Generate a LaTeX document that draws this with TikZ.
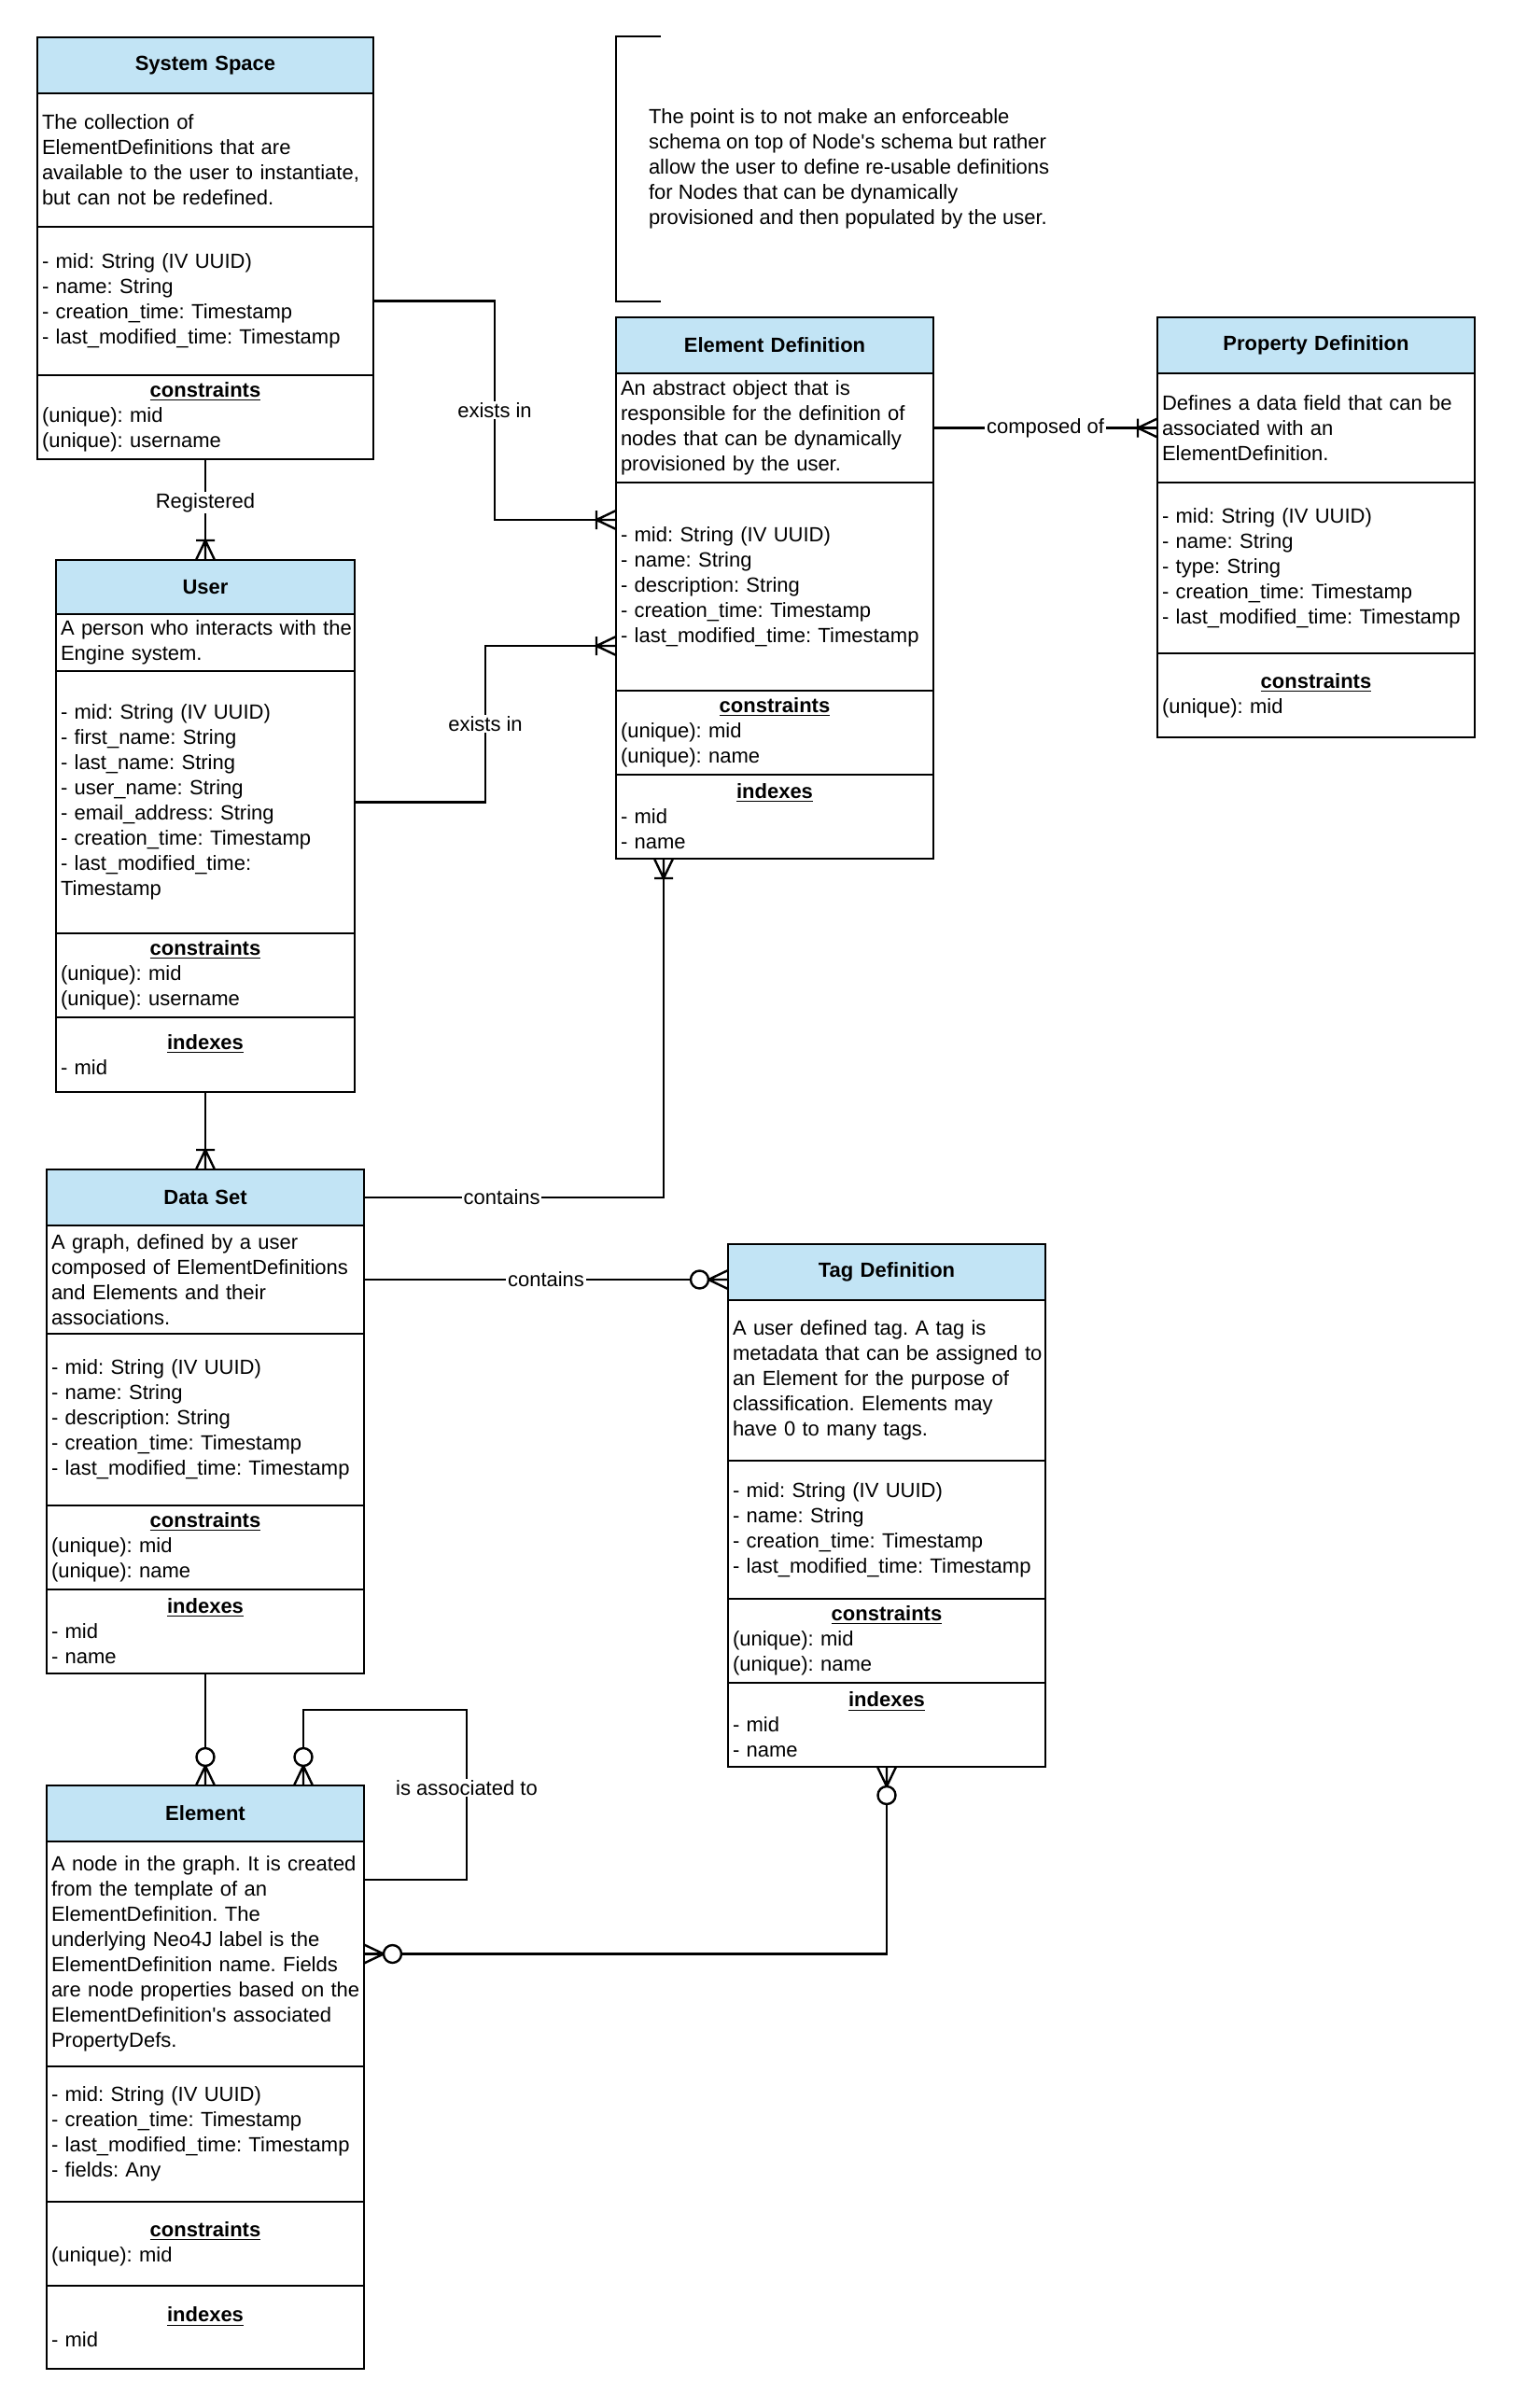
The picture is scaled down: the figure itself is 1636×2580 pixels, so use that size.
\documentclass[tikz,border=0pt]{standalone}
\usepackage{fontspec}
\setmainfont{Liberation Sans}
\usetikzlibrary{positioning}
\definecolor{hdrblue}{RGB}{194,228,245}
\newcommand{\colhead}[1]{\makebox[\linewidth]{\textbf{\underline{#1}}}}
\frenchspacing

\begin{document}
\begin{tikzpicture}[x=0.5pt, y=-0.5pt, line width=1.2pt,
    every node/.style={font=\fontsize{11}{13.5}\selectfont},
    ttl/.style={draw, fill=hdrblue, line width=1.3pt, outer sep=0pt, inner xsep=2.5pt, minimum height=30pt,
        align=center, font=\fontsize{11}{13.5}\selectfont\bfseries},
    sect/.style={draw, fill=white, line width=1.3pt, outer sep=0pt, inner xsep=2.5pt, inner ysep=0pt,
        align=left, below=0pt of #1, execute at begin node={\rightskip=-20pt plus 1fil\hyphenpenalty=10000}},
    lbl/.style={fill=white, inner sep=0.8pt},
    onemany/.pic={\draw (-21,-10) -- (-21,10) (0,-10) -- (-21,0) -- (0,10) (-21,0) -- (0,0);},
    zeromany/.pic={\draw (0,-10) -- (-21,0) -- (0,10) (-21,0) -- (0,0);
        \draw[fill=white] (-30.5,0) circle[radius=9.5];}]
    \fill[white] (0,0) rectangle (1636,2580);

    \node[ttl, text width=175pt] (sys) at (220,70) {System Space};
    \node[sect=sys, text width=175pt, minimum height=71.5pt] (sys-d) {The collection of\\ElementDefinitions that are\\available to the user to instantiate,\\but can not be redefined.};
    \node[sect=sys-d, text width=175pt, minimum height=79.5pt] (sys-a) {- mid: String (IV UUID)\\- name: String\\- creation\_time: Timestamp\\- last\_modified\_time: Timestamp};
    \node[sect=sys-a, text width=175pt, minimum height=45pt] (sys-c) {\colhead{constraints}\\(unique): mid\\(unique): username};

    \node[minimum height=142pt, anchor=west, outer sep=0pt, inner xsep=17.5pt, align=left] (note) at (660,181) {The point is to not make an enforceable\\schema on top of Node\textquotesingle s schema but rather\\allow the user to define re-usable definitions\\for Nodes that can be dynamically\\provisioned and then populated by the user.};
    \draw ([xshift=24pt]note.north west) -- (note.north west) -- (note.south west) -- ([xshift=24pt]note.south west);

    \node[ttl, text width=165pt] (ed) at (830,370) {Element Definition};
    \node[sect=ed, text width=165pt, minimum height=58.5pt] (ed-d) {An abstract object that is\\responsible for the definition of\\nodes that can be dynamically\\provisioned by the user.};
    \node[sect=ed-d, text width=165pt, minimum height=111.5pt] (ed-a) {- mid: String (IV UUID)\\- name: String\\- description: String\\- creation\_time: Timestamp\\- last\_modified\_time: Timestamp};
    \node[sect=ed-a, text width=165pt, minimum height=45pt] (ed-c) {\colhead{constraints}\\(unique): mid\\(unique): name};
    \node[sect=ed-c, text width=165pt, minimum height=45pt] (ed-i) {\colhead{indexes}\\- mid\\- name};

    \node[ttl, text width=165pt] (pd) at (1410,370) {Property Definition};
    \node[sect=pd, text width=165pt, minimum height=58.5pt] (pd-d) {Defines a data field that can be\\associated with an\\ElementDefinition.};
    \node[sect=pd-d, text width=165pt, minimum height=91.5pt] (pd-a) {- mid: String (IV UUID)\\- name: String\\- type: String\\- creation\_time: Timestamp\\- last\_modified\_time: Timestamp};
    \node[sect=pd-a, text width=165pt, minimum height=45pt] (pd-c) {\colhead{constraints}\\(unique): mid};

    \node[ttl, text width=155pt, minimum height=29pt] (usr) at (220,629) {User};
    \node[sect=usr, text width=155pt, minimum height=30.5pt] (usr-d) {A person who interacts with the\\Engine system.};
    \node[sect=usr-d, text width=155pt, minimum height=140.5pt] (usr-a) {- mid: String (IV UUID)\\- first\_name: String\\- last\_name: String\\- user\_name: String\\- email\_address: String\\- creation\_time: Timestamp\\- last\_modified\_time:\\Timestamp};
    \node[sect=usr-a, text width=155pt, minimum height=45pt] (usr-c) {\colhead{constraints}\\(unique): mid\\(unique): username};
    \node[sect=usr-c, text width=155pt, minimum height=40pt] (usr-i) {\colhead{indexes}\\- mid};

    \node[ttl, text width=165pt] (ds) at (220,1283) {Data Set};
    \node[sect=ds, text width=165pt, minimum height=58pt] (ds-d) {A graph, defined by a user\\composed of ElementDefinitions\\and Elements and their\\associations.};
    \node[sect=ds-d, text width=165pt, minimum height=92pt] (ds-a) {- mid: String (IV UUID)\\- name: String\\- description: String\\- creation\_time: Timestamp\\- last\_modified\_time: Timestamp};
    \node[sect=ds-a, text width=165pt, minimum height=45pt] (ds-c) {\colhead{constraints}\\(unique): mid\\(unique): name};
    \node[sect=ds-c, text width=165pt, minimum height=45pt] (ds-i) {\colhead{indexes}\\- mid\\- name};

    \node[ttl, text width=165pt] (tag) at (950,1363) {Tag Definition};
    \node[sect=tag, text width=165pt, minimum height=86pt] (tag-d) {A user defined tag. A tag is\\metadata that can be assigned to\\an Element for the purpose of\\classification. Elements may\\have 0 to many tags.};
    \node[sect=tag-d, text width=165pt, minimum height=74pt] (tag-a) {- mid: String (IV UUID)\\- name: String\\- creation\_time: Timestamp\\- last\_modified\_time: Timestamp};
    \node[sect=tag-a, text width=165pt, minimum height=45pt] (tag-c) {\colhead{constraints}\\(unique): mid\\(unique): name};
    \node[sect=tag-c, text width=165pt, minimum height=45pt] (tag-i) {\colhead{indexes}\\- mid\\- name};

    \node[ttl, text width=165pt] (el) at (220,1943) {Element};
    \node[sect=el, text width=165pt, minimum height=120.5pt] (el-d) {A node in the graph. It is created\\from the template of an\\ElementDefinition. The\\underlying Neo4J label is the\\ElementDefinition name. Fields\\are node properties based on the\\ElementDefinition\textquotesingle s associated\\PropertyDefs.};
    \node[sect=el-d, text width=165pt, minimum height=72.5pt] (el-a) {- mid: String (IV UUID)\\- creation\_time: Timestamp\\- last\_modified\_time: Timestamp\\- fields: Any};
    \node[sect=el-a, text width=165pt, minimum height=45pt] (el-c) {\colhead{constraints}\\(unique): mid};
    \node[sect=el-c, text width=165pt, minimum height=44.5pt] (el-i) {\colhead{indexes}\\- mid};

    \draw (sys-c.south) -- node[lbl, pos=0.43]{Registered} (usr.north);
    \pic[rotate=-90] at (usr.north) {onemany};
    \draw (sys-a.east) -- ++(130,0) |- node[lbl, pos=0.25]{exists in} ([yshift=-20pt]ed-a.north west);
    \pic at ([yshift=-20pt]ed-a.north west) {onemany};
    \draw (usr-a.east) -- ++(140,0) |- node[lbl, pos=0.25]{exists in} ([yshift=-87.5pt]ed-a.north west);
    \pic at ([yshift=-87.5pt]ed-a.north west) {onemany};
    \draw (ed-d.east) -- node[lbl]{composed of} (pd-d.west);
    \pic at (pd-d.west) {onemany};
    \draw (usr-i.south) -- (ds.north);
    \pic[rotate=-90] at (ds.north) {onemany};
    \draw (ds.east) -| node[lbl, pos=0.23]{contains} ([xshift=25.5pt]ed-i.south west);
    \pic[rotate=90] at ([xshift=25.5pt]ed-i.south west) {onemany};
    \draw (ds-d.east) -- node[lbl]{contains} (ds-d.east -| tag.west);
    \pic at (ds-d.east -| tag.west) {zeromany};
    \draw (ds-i.south) -- (el.north);
    \pic[rotate=-90] at (el.north) {zeromany};
    \draw ([xshift=52.5pt]el.north) |- ++(175,-81) -- node[lbl, pos=0.46]{is associated to} ++(0,182) -- ([yshift=-20.5pt]el-d.north east);
    \pic[rotate=-90] at ([xshift=52.5pt]el.north) {zeromany};
    \draw (tag-i.south) |- (el-d.east);
    \pic[rotate=90] at (tag-i.south) {zeromany};
    \pic[rotate=180] at (el-d.east) {zeromany};
\end{tikzpicture}
\end{document}
